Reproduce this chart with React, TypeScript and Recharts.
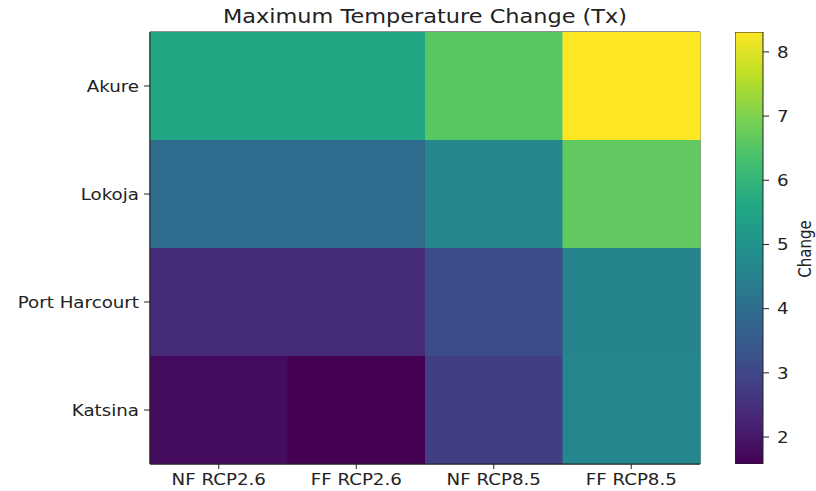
import React from 'react';
import { BarChart, Bar, XAxis, YAxis, Cell, ReferenceArea } from 'recharts';

const scenarios = ['NF RCP2.6', 'FF RCP2.6', 'NF RCP8.5', 'FF RCP8.5'];
// rows listed bottom to top
const cities = ['Katsina', 'Port Harcourt', 'Lokoja', 'Akure'];
const katsina = [1.78, 1.58, 2.8, 4.65];
const portHarcourt = [2.4, 2.4, 3.1, 4.6];
const lokoja = [3.95, 3.95, 4.65, 6.65];
const akure = [5.6, 5.6, 6.55, 8.31];
const cityValues = [katsina, portHarcourt, lokoja, akure];
const vmin = 1.58;
const vmax = 8.31;
const cbarTicks = [2, 3, 4, 5, 6, 7, 8];

const viridisStops = ['#440154', '#482475', '#414487', '#355f8d', '#2a788e', '#21918c', '#22a884', '#44bf70', '#7ad151', '#bddf26', '#fde725'];

function hexToRgb(h: string) {
  return [parseInt(h.slice(1, 3), 16), parseInt(h.slice(3, 5), 16), parseInt(h.slice(5, 7), 16)];
}
function viridis(v: number) {
  let t = (v - vmin) / (vmax - vmin);
  t = Math.max(0, Math.min(1, t));
  const p = t * 10;
  const i = Math.min(9, Math.floor(p));
  const f = p - i;
  const a = hexToRgb(viridisStops[i]);
  const b = hexToRgb(viridisStops[i + 1]);
  const c = a.map((x, k) => Math.round(x + (b[k] - x) * f));
  return `rgb(${c[0]},${c[1]},${c[2]})`;
}

const rows = scenarios.map((s) => {
  const r: any = { scenario: s };
  cities.forEach((c) => (r[c] = 1));
  return r;
});

const cbarData = [{ name: 'cb', range: [vmin, vmax] }];

const font = 'DejaVu Sans, sans-serif';
const FS = 16;
const SX = 1.14;

function makeTick(kind: 'x' | 'y' | 'c', fmt?: (v: any) => string) {
  return (props: any) => {
    const { x, y, payload } = props;
    const label = fmt ? fmt(payload.value) : String(payload.value);
    const anchor = kind === 'x' ? 'middle' : kind === 'y' ? 'end' : 'start';
    const dy = kind === 'x' ? '0.71em' : '0.36em';
    return (
      <text
        x={0}
        y={0}
        dy={dy}
        transform={`translate(${x},${y}) scale(${SX},1)`}
        textAnchor={anchor}
        fontFamily={font}
        fontSize={FS}
        fill="#222"
      >
        {label}
      </text>
    );
  };
}

export default function App() {
  return (
    <div style={{ position: 'fixed', left: 0, top: 0, width: 816, height: 491, background: '#fff' }}>
      <div
        style={{
          position: 'absolute',
          left: 425,
          top: 5,
          lineHeight: '22px',
          whiteSpace: 'nowrap',
          transform: 'translateX(-50%) scaleX(1.18)',
          fontFamily: font,
          fontSize: 19,
          color: '#222',
        }}
      >
        Maximum Temperature Change (Tx)
      </div>
      <div style={{ position: 'absolute', left: 0, top: 0 }}>
        <BarChart width={816} height={491} data={rows} margin={{ top: 32, right: 116, bottom: 0, left: 0 }} barCategoryGap={0}>
          <XAxis
            dataKey="scenario"
            height={27}
            tick={makeTick('x')}
            tickLine={{ stroke: '#222' }}
            axisLine={{ stroke: '#222' }}
            tickSize={5}
            tickMargin={5}
          />
          <YAxis
            type="number"
            domain={[0, 4]}
            allowDataOverflow
            ticks={[0.5, 1.5, 2.5, 3.5]}
            width={150}
            tick={makeTick('y', (v: number) => cities[Math.floor(v)])}
            tickLine={{ stroke: '#222' }}
            axisLine={{ stroke: '#222' }}
            tickSize={6}
            tickMargin={5}
          />
          {cities.map((c, ci) => (
            <Bar key={c} dataKey={c} stackId="a" isAnimationActive={false}>
              {scenarios.map((s, si) => (
                <Cell key={s} fill={viridis(cityValues[ci][si])} />
              ))}
            </Bar>
          ))}
          <ReferenceArea y1={0} y2={4} fill="none" stroke="#222" strokeWidth={1} ifOverflow="visible" />
        </BarChart>
      </div>
      <div style={{ position: 'absolute', left: 735, top: 0 }}>
        <BarChart width={81} height={491} data={cbarData} margin={{ top: 32, right: 0, bottom: 27, left: 0 }} barCategoryGap={0}>
          <defs>
            <linearGradient id="viridisGrad" x1="0" y1="1" x2="0" y2="0">
              {viridisStops.map((c, i) => (
                <stop key={i} offset={`${i * 10}%`} stopColor={c} />
              ))}
            </linearGradient>
          </defs>
          <XAxis dataKey="name" hide />
          <YAxis
            type="number"
            orientation="right"
            domain={[vmin, vmax]}
            allowDataOverflow
            ticks={cbarTicks}
            width={53}
            tick={makeTick('c')}
            tickLine={{ stroke: '#222' }}
            axisLine={false}
            tickSize={6}
            tickMargin={8}
          />
          <Bar dataKey="range" fill="url(#viridisGrad)" stroke="#222" strokeWidth={1} isAnimationActive={false} />
        </BarChart>
      </div>
      <div
        style={{
          position: 'absolute',
          left: 805,
          top: 249,
          lineHeight: '18px',
          whiteSpace: 'nowrap',
          transform: 'translate(-50%, -50%) rotate(-90deg) scaleY(1.14)',
          fontFamily: font,
          fontSize: 15,
          color: '#222',
        }}
      >
        Change
      </div>
    </div>
  );
}
